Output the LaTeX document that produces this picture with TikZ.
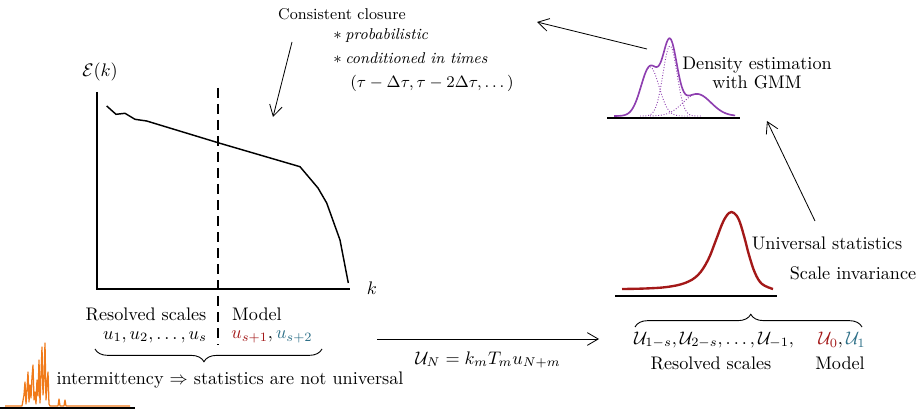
\documentclass[tikz,border=0pt]{standalone}
\usepackage{amsmath,amssymb}
\usetikzlibrary{arrows.meta,decorations.pathreplacing}
\definecolor{myred}{HTML}{A31818}
\definecolor{myteal}{HTML}{2E7088}
\definecolor{mypurple}{HTML}{8E3FB0}
\definecolor{myorange}{HTML}{F07A1A}
\tikzset{
  axis/.style={line width=1.2pt},
  arr/.style={line width=0.45pt,-{Straight Barb[length=6pt,width=7pt]}},
  lbl/.style={inner sep=0pt},
  small8/.style={inner sep=0pt,font=\fontsize{8.6pt}{10pt}\selectfont},
  bracestyle/.style={decorate,line width=0.5pt},
}
\begin{document}
\begin{tikzpicture}[x=0.55pt,y=-0.55pt]
\useasboundingbox (0,0) rectangle (921,414);

% ---------- Energy spectrum ----------
\coordinate (ytop) at (97,92);
\coordinate (orig) at (97,289);
\coordinate (xend) at (350,289);
\draw[axis] (ytop) -- (orig) -- (xend);
\node[lbl] (Ek) at (100,72) {$\mathcal{E}(k)$};
\node[lbl] (k) at (372,288) {$k$};
\coordinate (dtop) at (218,88);
\coordinate (dbot) at (218,345);
\draw[line width=0.9pt,dash pattern=on 5.5pt off 3.3pt] (dtop) -- (dbot);
\draw[line width=0.8pt] (106.7,106) -- (116,114.3) -- (125,113.3) -- (135,119.3) -- (146.7,121) -- (220,143.3) -- (300,166.7) -- (318,188) -- (326.7,203) -- (340,240) -- (348.3,283);

\node[lbl] (rsL) at (146,314) {Resolved scales};
\node[lbl] (mL) at (257,314) {Model};
\node[lbl] (uL) at (155,337) {$u_1,u_2,\dots,u_s$};
\node[lbl] (uR) at (272,337) {$\color{myred}u_{s+1}\color{black},\color{myteal}u_{s+2}$};
\coordinate (b1) at (95,349);
\coordinate (b2) at (322,349);
\draw[bracestyle,decoration={brace,mirror,amplitude=7pt,aspect=0.48}] (b1) -- (b2);
\node[lbl] (interm) at (230,380) {intermittency $\Rightarrow$ statistics are not universal};

% orange signal
\coordinate (sb1) at (0,408);
\coordinate (sb2) at (135,408);
\draw[myorange,line width=0.7pt,line join=round] (5,406) -- (22,406) -- (24,395) -- (25,382) -- (26,404) -- (27,390) -- (28,372) -- (29,402) -- (30,385) -- (31,398) -- (32,377) -- (33,365) -- (34,400) -- (35,392) -- (36,404) -- (37,380) -- (38,396) -- (39,360) -- (40,403) -- (41,375) -- (42,347) -- (43,395) -- (44,380) -- (45,343) -- (46,400) -- (47,385) -- (48,372) -- (49,404) -- (50,406) -- (58,406) -- (59,399) -- (60,406) -- (64,406) -- (65,400) -- (66,406) -- (130,406);
\draw[axis] (sb1) -- (sb2);

% ---------- Consistent closure ----------
\node[small8] (cc) at (342,14) {Consistent closure};
\node[small8,anchor=west] (c1) at (333,36) {$*$\hspace{2pt}\textit{probabilistic}};
\node[small8,anchor=west] (c2) at (333,58) {$*$\hspace{2pt}\textit{conditioned in times}};
\node[small8,anchor=west] (c3) at (350,83) {$(\tau-\Delta\tau,\tau-2\Delta\tau,\dots)$};
\coordinate (ccs) at (292,42);
\coordinate (cce) at (273,117);
\draw[arr] (ccs) -- (cce);

% ---------- GMM ----------
\coordinate (g1) at (607,118);
\coordinate (g2) at (740,118);
\draw[axis] (g1) -- (g2);
\draw[mypurple,line width=0.9pt] plot[domain=614:735,samples=160,smooth] (\x,{116-(49*exp(-((\x-650)^2)/162)+70*exp(-((\x-670)^2)/98)+22*exp(-((\x-697)^2)/392))});
\draw[mypurple,line width=0.5pt,densely dotted] plot[domain=618:690,samples=80,smooth] (\x,{116-49*exp(-((\x-650)^2)/162)});
\draw[mypurple,line width=0.5pt,densely dotted] plot[domain=640:702,samples=80,smooth] (\x,{116-70*exp(-((\x-670)^2)/98)});
\draw[mypurple,line width=0.5pt,densely dotted] plot[domain=650:735,samples=80,smooth] (\x,{116-22*exp(-((\x-697)^2)/392)});
\node[lbl,align=center] (gmm) at (757,73) {Density estimation\\[-2pt]with GMM};
\coordinate (gas) at (647,49);
\coordinate (gae) at (537,22);
\draw[arr] (gas) -- (gae);

% ---------- Universal ----------
\coordinate (r1) at (615,296);
\coordinate (r2) at (777,296);
\draw[axis] (r1) -- (r2);
\draw[myred,line width=1.3pt] plot[smooth,tension=0.6] coordinates {(622,289) (645,288.5) (667,287) (685,283) (698,275) (708,260) (716,240) (723,222) (729,213) (734,213) (739,220) (744,236) (749,255) (755,273) (762,284) (773,289)};
\node[lbl] (us) at (827,243) {Universal statistics};
\node[lbl] (si) at (853,273) {Scale invariance};
\coordinate (uas) at (815,221);
\coordinate (uae) at (767,121);
\draw[arr] (uas) -- (uae);

\coordinate (rb1) at (635,327);
\coordinate (rb2) at (862,327);
\draw[bracestyle,decoration={brace,amplitude=7pt,aspect=0.51}] (rb1) -- (rb2);
\node[lbl] (UL) at (714,340) {$\mathcal{U}_{1-s},\mathcal{U}_{2-s},\dots,\mathcal{U}_{-1},$};
\node[lbl] (UR) at (842,340) {$\color{myred}\mathcal{U}_0\color{black},\color{myteal}\mathcal{U}_1$};
\node[lbl] (rsR) at (711,363) {Resolved scales};
\node[lbl] (mR) at (840,363) {Model};

% ---------- middle arrow ----------
\coordinate (ms) at (377,339);
\coordinate (me) at (599,339);
\draw[arr] (ms) -- (me);
\node[lbl] (eq) at (488,360) {$\mathcal{U}_N=k_mT_mu_{N+m}$};
\end{tikzpicture}
\end{document}
